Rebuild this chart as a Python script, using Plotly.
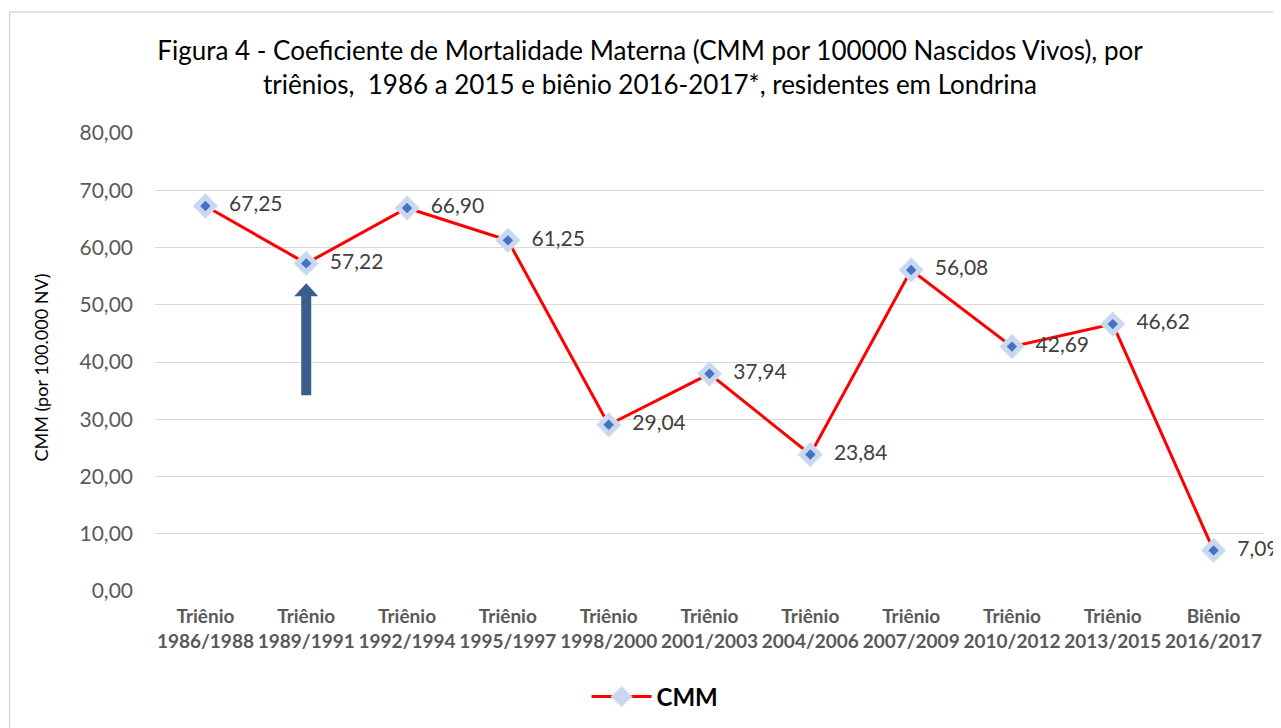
import plotly.graph_objects as go

categories = ["Triênio<br>1986/1988", "Triênio<br>1989/1991", "Triênio<br>1992/1994",
              "Triênio<br>1995/1997", "Triênio<br>1998/2000", "Triênio<br>2001/2003",
              "Triênio<br>2004/2006", "Triênio<br>2007/2009", "Triênio<br>2010/2012",
              "Triênio<br>2013/2015", "Biênio<br>2016/2017"]
cmm = [67.25, 57.22, 66.90, 61.25, 29.04, 37.94, 23.84, 56.08, 42.69, 46.62, 7.09]
labels = [f"{v:.2f}".replace(".", ",") for v in cmm]

title_text = ("Figura 4 - Coeficiente de Mortalidade Materna (CMM por 100000 Nascidos Vivos), por<br>"
              "triênios,  1986 a 2015 e biênio 2016-2017*, residentes em Londrina")
y_title = "CMM (por 100.000 NV)"

FONT = "Lato, 'Open Sans', sans-serif"
OFF = 8  # page body margin
W, H = 1281 - OFF, 728 - OFF
L, T = 154.5 - OFF, 133 - OFF
R = W - (1264.5 - OFF)
B = H - (591 - OFF)
pw, ph = W - L - R, H - T - B

fig = go.Figure()
fig.add_trace(go.Scatter(
    x=categories, y=cmm, mode="lines+markers+text", name="CMM",
    line=dict(color="#FF0000", width=3),
    marker=dict(symbol="diamond", size=19, color="#C9D8EE",
                line=dict(color="#DCE6F4", width=1)),
    text=["  " + t for t in labels], textposition="middle right",
    textfont=dict(family=FONT, size=21, color="#404040"),
    cliponaxis=False,
))
fig.add_trace(go.Scatter(
    x=categories, y=cmm, mode="markers", showlegend=False, hoverinfo="skip",
    marker=dict(symbol="diamond", size=8, color="#4472C4", line=dict(width=0)),
    cliponaxis=False,
))

# arrow pointing at the 1989/1991 point
fig.add_shape(type="path", xref="x", yref="y", xsizemode="pixel", ysizemode="pixel",
              xanchor=categories[1], yanchor=34.2,
              path="M -5,0 L 5,0 L 5,99 L 12,99 L 0,112 L -12,99 L -5,99 Z",
              fillcolor="#3A5E8C", line=dict(width=0), layer="above")

# outer chart border
fig.add_shape(type="rect", xref="paper", yref="paper",
              x0=(1 - L) / pw, x1=(W + 5 - L) / pw,
              y0=(H - B - (H + 5)) / ph, y1=(H - B - 4) / ph,
              line=dict(color="#D9D9D9", width=1.5), fillcolor="rgba(0,0,0,0)", layer="below")

# y axis title
fig.add_annotation(text=y_title, textangle=-90, showarrow=False,
                   xref="paper", yref="paper",
                   x=((40 - OFF) - L) / pw, y=((591 - OFF) - (368 - OFF)) / ph,
                   xanchor="center", yanchor="middle",
                   font=dict(family=FONT, size=18, color="#000000"))

fig.update_layout(
    width=W, height=H, autosize=False,
    margin=dict(l=L, r=R, t=T, b=B, autoexpand=False),
    paper_bgcolor="white", plot_bgcolor="white",
    separators=",.",
    title=dict(text=title_text, x=(650 - OFF) / W, xanchor="center", y=1 - 52 / H, yanchor="top",
               font=dict(family=FONT, size=26, color="#000000"), automargin=False),
    xaxis=dict(type="category", range=[-0.5, len(categories) - 0.5], showgrid=False,
               showline=False, ticks="", automargin=False, tickangle=0,
               tickfont=dict(family=FONT, size=19, color="#595959", weight="bold"),
               ticklabelstandoff=12, fixedrange=True),
    yaxis=dict(range=[0, 80], dtick=10, tickformat=".2f", showgrid=True, automargin=False,
               gridcolor="#D9D9D9", gridwidth=1, zeroline=False, showline=False,
               tickfont=dict(family=FONT, size=21, color="#595959"),
               ticklabelstandoff=21),
    legend=dict(orientation="h", x=(655 - OFF - L) / pw, xanchor="center",
                y=-((697 - OFF) - (H - B)) / ph,
                yanchor="middle", font=dict(family=FONT, size=24, color="#000000", weight="bold"),
                itemwidth=60),
    showlegend=True,
)

fig.write_html("out.html")
